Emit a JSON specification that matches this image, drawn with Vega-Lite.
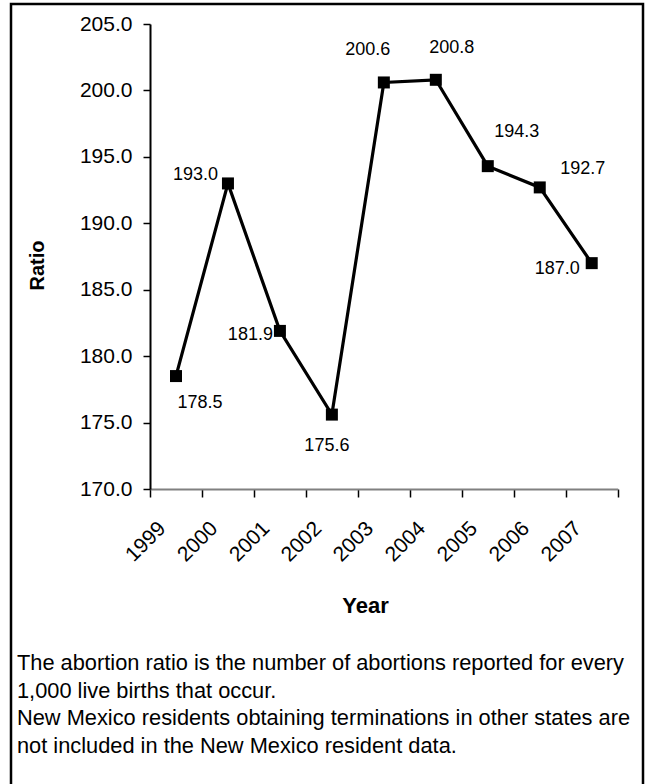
{
  "$schema": "https://vega.github.io/schema/vega-lite/v6.json",
  "width": 632,
  "height": 783,
  "autosize": {"type": "none"},
  "padding": {"left": 11, "top": 4, "right": 3, "bottom": -3},
  "background": "white",
  "config": {
    "font": "Liberation Sans",
    "view": {"stroke": "black", "strokeWidth": 2.5}
  },
  "title": {
    "text": [
      "The abortion ratio is the number of abortions reported for every",
      "1,000 live births that occur.",
      "New Mexico residents obtaining terminations in other states are",
      "not included in the New Mexico resident data."
    ],
    "orient": "bottom",
    "anchor": "start",
    "frame": "group",
    "offset": -134,
    "fontSize": 21.8,
    "fontWeight": "normal",
    "color": "black",
    "lineHeight": 27.5,
    "dx": 6
  },
  "data": {
    "values": [
      {"Year": 1999, "Ratio": 178.5},
      {"Year": 2000, "Ratio": 193.0},
      {"Year": 2001, "Ratio": 181.9},
      {"Year": 2002, "Ratio": 175.6},
      {"Year": 2003, "Ratio": 200.6},
      {"Year": 2004, "Ratio": 200.8},
      {"Year": 2005, "Ratio": 194.3},
      {"Year": 2006, "Ratio": 192.7},
      {"Year": 2007, "Ratio": 187.0}
    ]
  },
  "encoding": {
    "x": {
      "field": "Year",
      "type": "quantitative",
      "scale": {"domain": [1998.5, 2007.5], "range": [139, 606.7], "nice": false, "zero": false},
      "axis": {
        "orient": "bottom",
        "offset": -298,
        "values": [1998.5, 1999.5, 2000.5, 2001.5, 2002.5, 2003.5, 2004.5, 2005.5, 2006.5, 2007.5],
        "labelExpr": "datum.value < 2007 ? format(datum.value + 0.5, 'd') : ''",
        "labelAngle": -45,
        "labelAlign": "right",
        "labelBaseline": "middle",
        "labelOffset": 12,
        "labelPadding": 28,
        "labelFontSize": 21,
        "labelColor": "black",
        "labelOverlap": false,
        "labelFlush": false,
        "tickSize": 8,
        "tickColor": "black",
        "tickWidth": 1.5,
        "domainColor": "#808080",
        "domainWidth": 2,
        "grid": false,
        "title": "Year",
        "titleFontSize": 22,
        "titleFontWeight": "bold",
        "titleColor": "black",
        "titlePadding": 30,
        "titleX": 354
      }
    },
    "y": {
      "field": "Ratio",
      "type": "quantitative",
      "scale": {"domain": [170, 205], "range": [485, 20], "nice": false, "zero": false},
      "axis": {
        "orient": "left",
        "offset": -139,
        "values": [170, 175, 180, 185, 190, 195, 200, 205],
        "format": ".1f",
        "tickSize": 7,
        "tickColor": "black",
        "tickWidth": 1.5,
        "domainColor": "black",
        "domainWidth": 2,
        "labelFontSize": 21,
        "labelColor": "black",
        "labelPadding": 11,
        "labelFlush": false,
        "grid": false,
        "title": "Ratio",
        "titleFontSize": 20,
        "titleFontWeight": "bold",
        "titleColor": "black",
        "titlePadding": 32,
        "titleY": 261
      }
    }
  },
  "layer": [
    {"mark": {"type": "line", "color": "black", "strokeWidth": 3.2}},
    {"mark": {"type": "point", "shape": "square", "filled": true, "color": "black", "size": 144, "opacity": 1}},
    {"transform": [{"filter": "datum.Year == 1999"}], "mark": {"type": "text", "dx": 24, "dy": 27, "fontSize": 18, "align": "center", "color": "black"}, "encoding": {"text": {"field": "Ratio", "format": ".1f"}}},
    {"transform": [{"filter": "datum.Year == 2000"}], "mark": {"type": "text", "dx": -10, "dy": -8, "fontSize": 18, "align": "right", "color": "black"}, "encoding": {"text": {"field": "Ratio", "format": ".1f"}}},
    {"transform": [{"filter": "datum.Year == 2001"}], "mark": {"type": "text", "dx": -7, "dy": 4, "fontSize": 18, "align": "right", "color": "black"}, "encoding": {"text": {"field": "Ratio", "format": ".1f"}}},
    {"transform": [{"filter": "datum.Year == 2002"}], "mark": {"type": "text", "dx": -5, "dy": 31, "fontSize": 18, "align": "center", "color": "black"}, "encoding": {"text": {"field": "Ratio", "format": ".1f"}}},
    {"transform": [{"filter": "datum.Year == 2003"}], "mark": {"type": "text", "dx": -16, "dy": -32, "fontSize": 18, "align": "center", "color": "black"}, "encoding": {"text": {"field": "Ratio", "format": ".1f"}}},
    {"transform": [{"filter": "datum.Year == 2004"}], "mark": {"type": "text", "dx": 16, "dy": -32, "fontSize": 18, "align": "center", "color": "black"}, "encoding": {"text": {"field": "Ratio", "format": ".1f"}}},
    {"transform": [{"filter": "datum.Year == 2005"}], "mark": {"type": "text", "dx": 29, "dy": -34, "fontSize": 18, "align": "center", "color": "black"}, "encoding": {"text": {"field": "Ratio", "format": ".1f"}}},
    {"transform": [{"filter": "datum.Year == 2006"}], "mark": {"type": "text", "dx": 43, "dy": -18, "fontSize": 18, "align": "center", "color": "black"}, "encoding": {"text": {"field": "Ratio", "format": ".1f"}}},
    {"transform": [{"filter": "datum.Year == 2007"}], "mark": {"type": "text", "dx": -12, "dy": 6, "fontSize": 18, "align": "right", "color": "black"}, "encoding": {"text": {"field": "Ratio", "format": ".1f"}}}
  ]
}
